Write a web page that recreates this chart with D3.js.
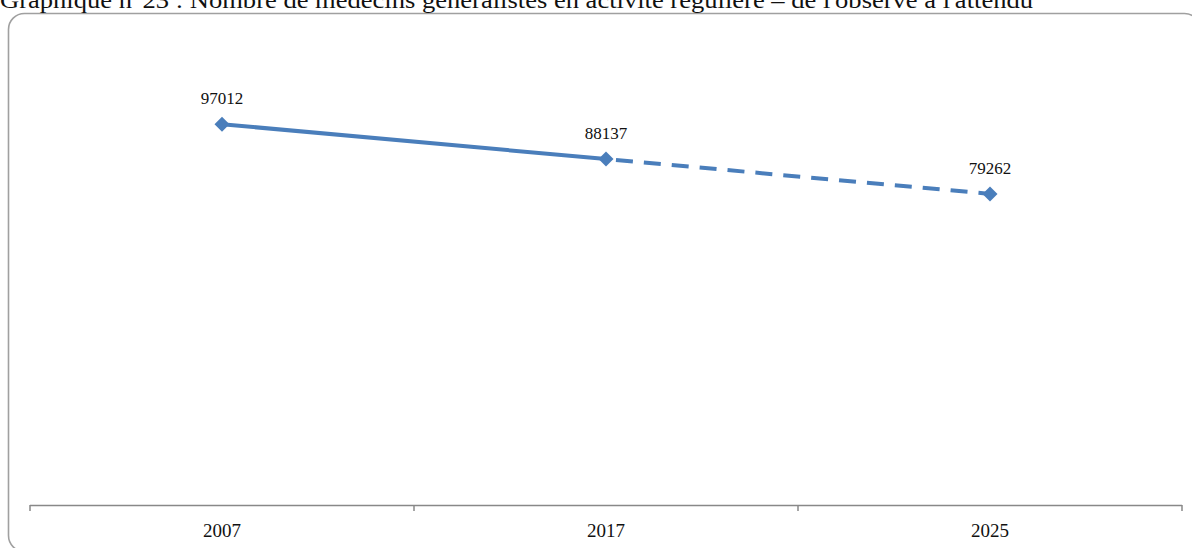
<!DOCTYPE html>
<html>
<head>
<meta charset="utf-8">
<script src="https://cdn.jsdelivr.net/npm/d3@7"></script>
<style>
  html, body { margin: 0; padding: 0; background: #fff; }
  svg { display: block; }
</style>
</head>
<body>
<svg id="chart" width="1192" height="548"></svg>
<script>
// Years on the category axis
const years = ["2007", "2017", "2025"];
// Observed and projected counts of general practitioners
const values = [97012, 88137, 79262];
// Segment styles: observed part solid, projected part dashed
const observedYears = ["2007", "2017"];
const projectedYears = ["2017", "2025"];
const title = "Graphique n°23 : Nombre de médecins généralistes en activité régulière – de l'observé à l'attendu";

const svg = d3.select("#chart");
const blue = "#4a7ebb";
const serif = "'Liberation Serif', 'DejaVu Serif', serif";

// Rounded chart frame
svg.append("rect")
  .attr("x", 8.5).attr("y", 13.5)
  .attr("width", 1192).attr("height", 538)
  .attr("rx", 16).attr("ry", 16)
  .attr("fill", "#fff")
  .attr("stroke", "#a0a0a0")
  .attr("stroke-width", 1.6);

// Title above the frame
svg.append("text")
  .attr("x", 0).attr("y", 8)
  .attr("font-family", serif)
  .attr("font-size", 23)
  .attr("fill", "#111")
  .attr("textLength", 1033)
  .attr("lengthAdjust", "spacingAndGlyphs")
  .text(title);

// Scales
const x = d3.scaleBand().domain(years).range([30, 1182]);
const y = d3.scaleLinear().domain([0, 120000]).range([505, 34]);
const cx = d => x(d) + x.bandwidth() / 2;
const valueOf = d => values[years.indexOf(d)];

// Category axis
const axis = svg.append("g")
  .attr("transform", "translate(0,505.5)")
  .call(d3.axisBottom(x).tickSize(0).tickPadding(0).tickFormat(""));
axis.select(".domain").attr("stroke", "#888").attr("stroke-width", 1.5).attr("d", "M30,0H1182");
// Boundary ticks between categories
const bounds = years.map(d => x(d)).concat([x(years[years.length - 1]) + x.bandwidth()]);
svg.append("g").selectAll("line").data(bounds).join("line")
  .attr("x1", d => d).attr("x2", d => d)
  .attr("y1", 505).attr("y2", 511)
  .attr("stroke", "#888").attr("stroke-width", 1.5);
svg.append("g").selectAll("text").data(years).join("text")
  .attr("x", cx).attr("y", 537)
  .attr("text-anchor", "middle")
  .attr("font-family", serif)
  .attr("font-size", 19)
  .attr("fill", "#111")
  .text(d => d);

// Lines
const line = d3.line().x(cx).y(d => y(valueOf(d)));
svg.append("path").datum(observedYears)
  .attr("d", line)
  .attr("fill", "none").attr("stroke", blue)
  .attr("stroke-width", 4).attr("stroke-linecap", "round");
svg.append("path").datum(projectedYears)
  .attr("d", line)
  .attr("fill", "none").attr("stroke", blue)
  .attr("stroke-width", 4)
  .attr("stroke-dasharray", "17,11")
  .attr("stroke-dashoffset", -10);

// Diamond markers
svg.append("g").selectAll("path").data(years).join("path")
  .attr("transform", d => `translate(${cx(d)},${y(valueOf(d))})`)
  .attr("d", "M0,-7.5L7.5,0L0,7.5L-7.5,0Z")
  .attr("fill", blue);

// Value labels
svg.append("g").selectAll("text").data(years).join("text")
  .attr("x", cx)
  .attr("y", d => y(valueOf(d)) - 20)
  .attr("text-anchor", "middle")
  .attr("font-family", serif)
  .attr("font-size", 17)
  .attr("fill", "#111")
  .text(d => valueOf(d));
</script>
</body>
</html>
